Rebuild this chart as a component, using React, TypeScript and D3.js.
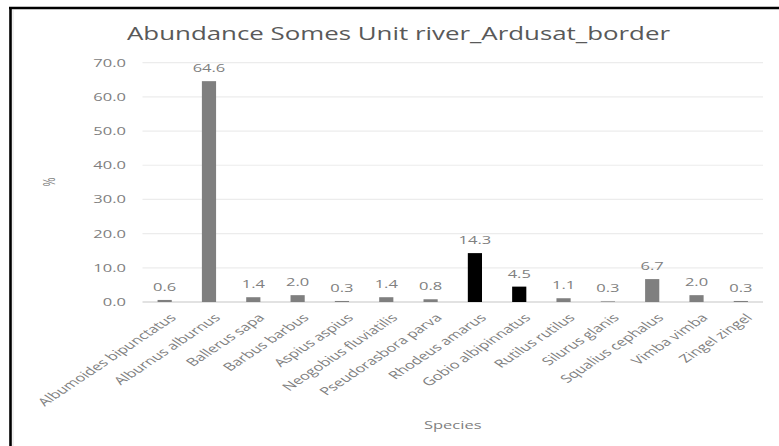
import React from "react";
import * as d3 from "d3";

const species = [
  "Albumoides bipunctatus",
  "Alburnus alburnus",
  "Ballerus sapa",
  "Barbus barbus",
  "Aspius aspius",
  "Neogobius fluviatilis",
  "Pseudorasbora parva",
  "Rhodeus amarus",
  "Gobio albipinnatus",
  "Rutilus rutilus",
  "Silurus glanis",
  "Squalius cephalus",
  "Vimba vimba",
  "Zingel zingel",
];
const abundance = [0.6, 64.6, 1.4, 2.0, 0.3, 1.4, 0.8, 14.3, 4.5, 1.1, 0.3, 6.7, 2.0, 0.3];
const barColors = [
  "#7f7f7f", "#7f7f7f", "#7f7f7f", "#7f7f7f", "#7f7f7f", "#7f7f7f", "#7f7f7f",
  "#000000", "#000000", "#7f7f7f", "#a6a6a6", "#7f7f7f", "#7f7f7f", "#7f7f7f",
];
const yTicks = [0, 10, 20, 30, 40, 50, 60, 70];
const title = "Abundance Somes Unit river_Ardusat_border";
const xTitle = "Species";
const yTitle = "%";

const W = 779;
const H = 446;
const SX = 1.5;
const FONT = "'Open Sans', sans-serif";

export default function App() {
  const plotLeft = 142.5;
  const plotRight = 763;
  const x = d3.scaleBand<string>().domain(species).range([plotLeft, plotRight]).paddingInner(0.68).paddingOuter(0.34);
  const y = d3.scaleLinear().domain([0, 70]).range([302, 62.7]);
  const fmt = d3.format(".1f");

  return (
    <svg width={W} height={H} style={{ position: "absolute", left: 0, top: 0, background: "#fff" }} fontFamily={FONT}>
      <rect x={0} y={0} width={W} height={H} fill="#fff" />
      {/* frame */}
      <line x1={10.5} y1={7} x2={10.5} y2={H} stroke="#000" strokeWidth={2.6} />
      <line x1={9} y1={8} x2={W} y2={8} stroke="#000" strokeWidth={2.6} />
      <line x1={13} y1={10} x2={13} y2={H} stroke="#d9d9d9" strokeWidth={0.8} />

      {/* title */}
      <text x={398.5} y={40} textAnchor="middle" fontSize={17.5} fill="#595959" textLength={543} lengthAdjust="spacingAndGlyphs">
        {title}
      </text>

      {/* gridlines */}
      {yTicks.map((t) => (
        <line key={"g" + t} x1={plotLeft} x2={plotRight} y1={y(t)} y2={y(t)} stroke={t === 0 ? "#d9d9d9" : "#ececec"} strokeWidth={t === 0 ? 1.5 : 1.2} />
      ))}

      {/* y tick labels */}
      {yTicks.map((t) => (
        <text key={"t" + t} transform={`translate(126,${y(t)}) scale(${SX},1)`} textAnchor="end" dy="0.36em" fontSize={11} fill="#808080">
          {fmt(t)}
        </text>
      ))}

      {/* bars */}
      {species.map((s, i) => (
        <rect key={"b" + s} x={x(s)!} width={x.bandwidth()} y={y(abundance[i])} height={y(0) - y(abundance[i])} fill={barColors[i]} />
      ))}

      {/* data labels */}
      {species.map((s, i) => (
        <text key={"d" + s} transform={`translate(${x(s)! + x.bandwidth() / 2},${y(abundance[i]) - 9}) scale(${SX},1)`} textAnchor="middle" fontSize={11} fill="#808080">
          {fmt(abundance[i])}
        </text>
      ))}

      {/* category labels */}
      {species.map((s) => (
        <text key={"c" + s} transform={`translate(${x(s)! + x.bandwidth() / 2 + 4},${313}) scale(${SX},1) rotate(-45)`} textAnchor="end" dy="0.71em" fontSize={11} fill="#808080">
          {s}
        </text>
      ))}

      {/* axis titles */}
      <text transform={`translate(${(plotLeft + plotRight) / 2},429) scale(${SX},1)`} textAnchor="middle" fontSize={11} fill="#808080">
        {xTitle}
      </text>
      <text transform={`translate(55,182) scale(${SX},1) rotate(-90)`} textAnchor="middle" fontSize={11} fill="#808080">
        {yTitle}
      </text>
    </svg>
  );
}
